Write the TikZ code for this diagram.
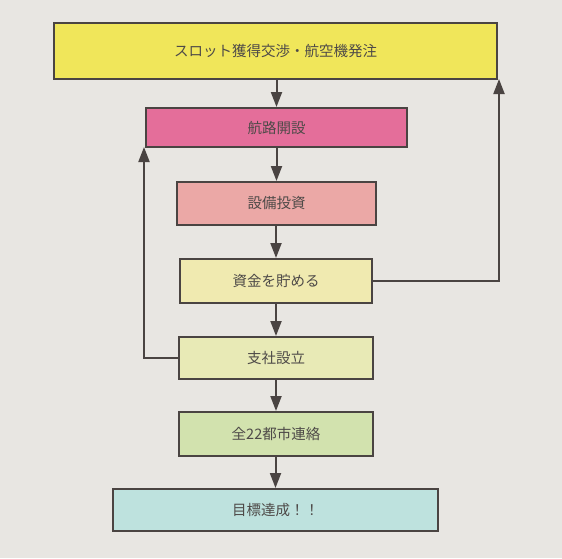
\documentclass[tikz,border=0pt]{standalone}
\usepackage{fontspec}
\newfontfamily\jpfont{Noto Sans CJK JP}
\usetikzlibrary{arrows.meta}
\definecolor{bgc}{HTML}{E8E6E2}
\definecolor{linec}{HTML}{4A4442}
\definecolor{txtc}{HTML}{4E4A48}
\definecolor{cA}{HTML}{F0E65A}
\definecolor{cB}{HTML}{E46E9A}
\definecolor{cC}{HTML}{EBA8A6}
\definecolor{cD}{HTML}{F0EAB0}
\definecolor{cE}{HTML}{E8EAB6}
\definecolor{cF}{HTML}{D2E2AE}
\definecolor{cG}{HTML}{BEE2DE}
\tikzset{
  box/.style={draw=linec, line width=2pt, rectangle, inner sep=0pt,
    font=\jpfont\fontsize{14.5pt}{16pt}\selectfont, text=txtc},
  conn/.style={draw=linec, line width=2pt, -{Triangle[width=11pt,length=15pt]}},
  loopline/.style={draw=linec, line width=2pt, -{Triangle[width=11pt,length=15pt]}}
}
\begin{document}
\begin{tikzpicture}[x=1pt,y=-1pt]
\fill[bgc] (0,0) rectangle (562,558);
\useasboundingbox (0,0) rectangle (562,558);
\node[box, fill=cA, minimum width=443pt, minimum height=56pt] (b1) at (275.5,51) {スロット獲得交渉・航空機発注};
\node[box, fill=cB, minimum width=261pt, minimum height=39pt] (b2) at (276.5,127.5) {航路開設};
\node[box, fill=cC, minimum width=199pt, minimum height=43pt] (b3) at (276.5,203.5) {設備投資};
\node[box, fill=cD, minimum width=192pt, minimum height=44pt] (b4) at (276,281) {資金を貯める};
\node[box, fill=cE, minimum width=194pt, minimum height=42pt] (b5) at (276,358) {支社設立};
\node[box, fill=cF, minimum width=194pt, minimum height=44pt] (b6) at (276,434) {全22都市連絡};
\node[box, fill=cG, minimum width=325pt, minimum height=42pt] (b7) at (275.5,510) {目標達成！！};
\draw[conn] (b1.south -| b2.north) -- (b2.north);
\draw[conn] (b2.south -| b3.north) -- (b3.north);
\draw[conn] (b3.south -| b4.north) -- (b4.north);
\draw[conn] (b4.south -| b5.north) -- (b5.north);
\draw[conn] (b5.south -| b6.north) -- (b6.north);
\draw[conn] (b6.south -| b7.north) -- (b7.north);
\coordinate (rtop) at ([xshift=1pt,yshift=1pt]b1.south east);
\coordinate (ltop) at ([xshift=-1pt,yshift=1pt]b2.south west);
\draw[loopline] (b4.east) -| (rtop);
\draw[loopline] (b5.west) -| (ltop);
\end{tikzpicture}
\end{document}
